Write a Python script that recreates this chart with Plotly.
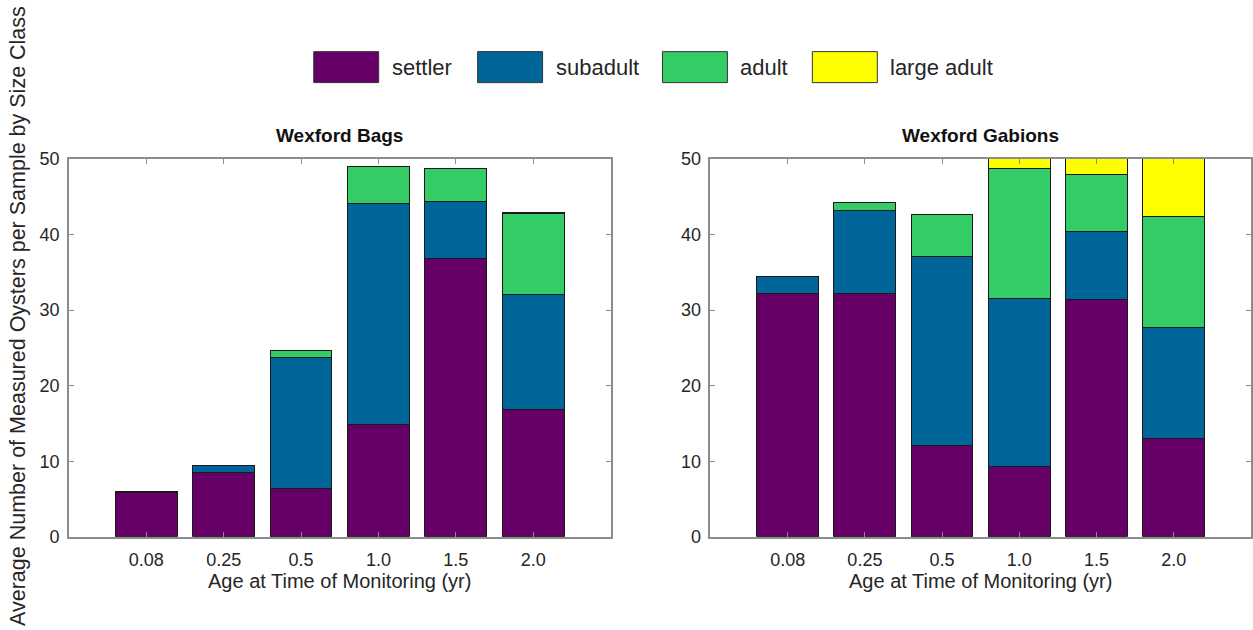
import plotly.graph_objects as go

# ---------------- data ----------------
ages = ["0.08", "0.25", "0.5", "1.0", "1.5", "2.0"]
series_names = ["settler", "subadult", "adult", "large adult"]
series_colors = ["#660066", "#006699", "#33cc66", "#ffff00"]

bags_settler = [5.8, 8.5, 6.4, 14.85, 36.8, 16.9]
bags_subadult = [0.2, 0.9, 17.3, 29.25, 7.6, 15.2]
bags_adult = [0.0, 0.0, 0.95, 4.95, 4.4, 10.7]
bags_large = [0.0, 0.0, 0.0, 0.0, 0.0, 0.1]

gab_settler = [32.2, 32.2, 12.1, 9.35, 31.4, 13.05]
gab_subadult = [2.3, 10.95, 25.05, 22.25, 8.95, 14.6]
gab_adult = [0.0, 1.05, 5.55, 17.2, 7.55, 14.7]
gab_large = [0.0, 0.0, 0.0, 1.7, 2.6, 8.5]

panel_titles = ["Wexford Bags", "Wexford Gabions"]
x_title = "Age at Time of Monitoring (yr)"
y_title = "Average Number of Measured Oysters per Sample by Size Class"
y_ticks = [0, 10, 20, 30, 40, 50]

# ---------------- layout constants ----------------
W, H = 1253, 630
FONT = "Liberation Sans, Arial, sans-serif"
TXT = "#262626"
AX = "#8c8c8c"


def px_x(p):
    return p / W


def px_y(p):
    return 1 - p / H


dom_left = [px_x(69), px_x(611)]
dom_right = [px_x(711), px_x(1252)]
dom_y = [px_y(544), px_y(154)]

fig = go.Figure()

panels = [
    ("x", "y", [bags_settler, bags_subadult, bags_adult, bags_large]),
    ("x2", "y2", [gab_settler, gab_subadult, gab_adult, gab_large]),
]
for xa, ya, vals in panels:
    for name, color, v in zip(series_names, series_colors, vals):
        fig.add_trace(go.Bar(
            x=ages, y=v, name=name, xaxis=xa, yaxis=ya,
            marker=dict(color=color, line=dict(color="#1a1a1a", width=1)),
            showlegend=False,
        ))

axis_common = dict(
    showline=True, linecolor=AX, linewidth=1.5, mirror="ticks",
    ticks="inside", ticklen=5, tickcolor=AX, tickwidth=1,
    showgrid=False, zeroline=False,
    tickfont=dict(family=FONT, size=18, color=TXT),
)

fig.update_layout(
    width=W, height=H,
    margin=dict(l=0, r=0, t=0, b=0),
    paper_bgcolor="white", plot_bgcolor="white",
    barmode="stack", bargap=0.2,
    font=dict(family=FONT, color=TXT),
    xaxis=dict(domain=dom_left, anchor="y", type="category",
               range=[-1, 6], ticklabelstandoff=6, **axis_common),
    yaxis=dict(domain=dom_y, anchor="x", range=[0, 50],
               tickvals=y_ticks, ticklabelstandoff=4, **axis_common),
    xaxis2=dict(domain=dom_right, anchor="y2", type="category",
                range=[-1, 6], ticklabelstandoff=6, **axis_common),
    yaxis2=dict(domain=dom_y, anchor="x2", range=[0, 50],
                tickvals=y_ticks, ticklabelstandoff=4, **axis_common),
)

annotations = []
for title, dom in zip(panel_titles, [dom_left, dom_right]):
    cx = (dom[0] + dom[1]) / 2
    annotations.append(dict(
        text=f"<b>{title}</b>", x=cx, y=px_y(130), xref="paper", yref="paper",
        xanchor="center", yanchor="middle", showarrow=False,
        font=dict(family=FONT, size=19, color="#111111"),
    ))
    annotations.append(dict(
        text=x_title, x=cx, y=px_y(590), xref="paper", yref="paper",
        xanchor="center", yanchor="middle", showarrow=False,
        font=dict(family=FONT, size=20, color=TXT),
    ))
annotations.append(dict(
    text=y_title, x=px_x(18), y=px_y(316), xref="paper", yref="paper",
    xanchor="center", yanchor="middle", textangle=-90, showarrow=False,
    font=dict(family=FONT, size=21.5, color=TXT),
))

# legend drawn as boxes + labels
leg_box_x0 = [314, 478, 663, 813]
leg_box_w = 65
leg_y0, leg_y1 = 43, 75
shapes = []
for name, color, bx in zip(series_names, series_colors, leg_box_x0):
    shapes.append(dict(
        type="rect", xref="paper", yref="paper",
        x0=px_x(bx), x1=px_x(bx + leg_box_w), y0=px_y(leg_y1), y1=px_y(leg_y0),
        fillcolor=color, line=dict(color="#333333", width=1),
    ))
    annotations.append(dict(
        text=name, x=px_x(bx + leg_box_w + 11), y=px_y(59), xref="paper", yref="paper",
        xanchor="left", yanchor="middle", showarrow=False,
        font=dict(family=FONT, size=22, color=TXT),
    ))

fig.update_layout(annotations=annotations, shapes=shapes)

fig.write_html(
    "out.html",
    config={"displayModeBar": False},
    post_script="document.body.style.margin='0';document.body.style.overflow='hidden';",
)
